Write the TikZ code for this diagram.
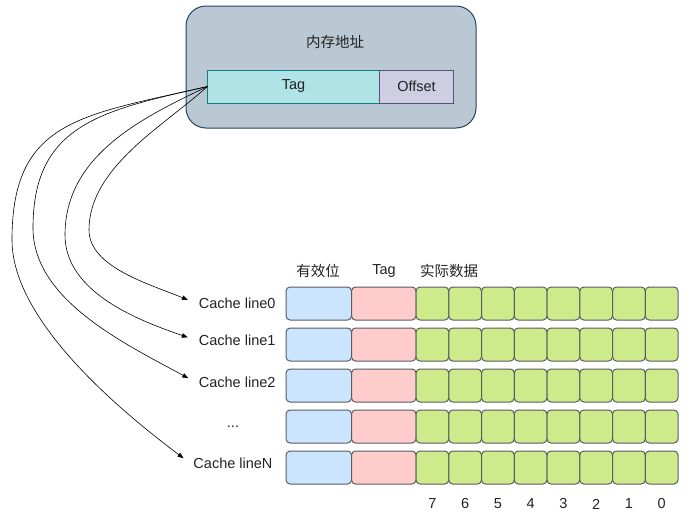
\documentclass[tikz,border=0pt]{standalone}
\usepackage{fontspec}
\setmainfont{Liberation Sans}
\newfontfamily\cjk{Noto Sans CJK SC}
\usetikzlibrary{arrows.meta}
\definecolor{memfill}{HTML}{BAC8D3}
\definecolor{memline}{HTML}{23445D}
\definecolor{tagboxfill}{HTML}{B0E3E6}
\definecolor{tagboxline}{HTML}{0E8088}
\definecolor{offfill}{HTML}{D0CEE2}
\definecolor{offline}{HTML}{56517E}
\definecolor{validfill}{HTML}{CCE5FF}
\definecolor{tagfill}{HTML}{FFCCCC}
\definecolor{datafill}{HTML}{CDEB8B}
\definecolor{cellline}{HTML}{5A5C60}
\definecolor{txtgray}{HTML}{222222}

\begin{document}
\begin{tikzpicture}[x=1pt,y=-1pt,
  font=\fontsize{14.5}{16}\selectfont, text=txtgray,
  cellbox/.style={draw=cellline, line width=1pt, rounded corners=4pt, anchor=north west,
    inner sep=0pt, outer sep=0pt, minimum height=33pt},
  validcell/.style={cellbox, fill=validfill, minimum width=65.5pt},
  tagcell/.style={cellbox, fill=tagfill, minimum width=64.5pt},
  datacell/.style={cellbox, fill=datafill, minimum width=32.75pt},
  addrbox/.style={anchor=north west, line width=1pt, inner sep=0pt, outer sep=0pt, minimum height=33pt},
  link/.style={draw=black, line width=0.6pt, -{Triangle[length=6pt,width=4.5pt]}, shorten >=8pt}]
  \useasboundingbox (0,0) rectangle (690,522);

  \node[draw=memline, fill=memfill, rounded corners=20pt, line width=1pt, anchor=north west,
    minimum width=290pt, minimum height=122pt] (mem) at (185.5,5.5) {};
  \node[font=\fontsize{14.5}{16}\cjk] (title) at (335,42) {内存地址};
  \node[addrbox, draw=tagboxline, fill=tagboxfill, minimum width=172pt] (tag) at (207.5,70) {Tag};
  \node[addrbox, draw=offline, fill=offfill, minimum width=74pt] (off) at (379.5,70) {Offset};

  \node[font=\fontsize{14.5}{16}\cjk] (hvalid) at (318,271) {有效位};
  \node (htag) at (384,271) {Tag};
  \node[font=\fontsize{14.5}{16}\cjk] (hdata) at (449,271) {实际数据};

  \foreach \r in {0,...,4} {
    \node[validcell] (v\r) at (286,287+41*\r) {};
    \node[tagcell] (t\r) at (351.5,287+41*\r) {};
    \foreach \c in {0,...,7}
      \node[datacell] (d\r\c) at (416+32.75*\c,287+41*\r) {};
  }

  \foreach \c/\b in {0/7,1/6,2/5,3/4,4/3,5/2,6/1,7/0}
    \node (n\b) at ([yshift=-20pt]d4\c.south) {\b};

  \node[anchor=east] (l0) at (279,303) {Cache line0};
  \node[anchor=east] (l1) at (279,340) {Cache line1};
  \node[anchor=east] (l2) at (279,382) {Cache line2};
  \node (ldots) at (233,427) {...};
  \node[anchor=east] (lN) at (276,463) {Cache lineN};

  \coordinate (wA) at (89,230);
  \coordinate (wB) at (65,235);
  \coordinate (wC) at (33,228);
  \coordinate (wD) at (12,240);

  \draw[link] (tag.west) .. controls +(-46,41) and +(0,-62) .. (wA)
    .. controls +(0,37) and +(-46,-19) .. (l0.west);
  \draw[link] (tag.west) .. controls +(-65,31) and +(0,-80) .. (wB)
    .. controls +(0,58) and +(-55,-19) .. (l1.west);
  \draw[link] (tag.west) .. controls +(-107,24) and +(0,-103) .. (wC)
    .. controls +(0,72) and +(-70,-38) .. (l2.west);
  \draw[link] (tag.west) .. controls +(-127,29) and +(0,-120) .. (wD)
    .. controls +(0,80) and +(-72,-54) .. (lN.west);
\end{tikzpicture}
\end{document}
